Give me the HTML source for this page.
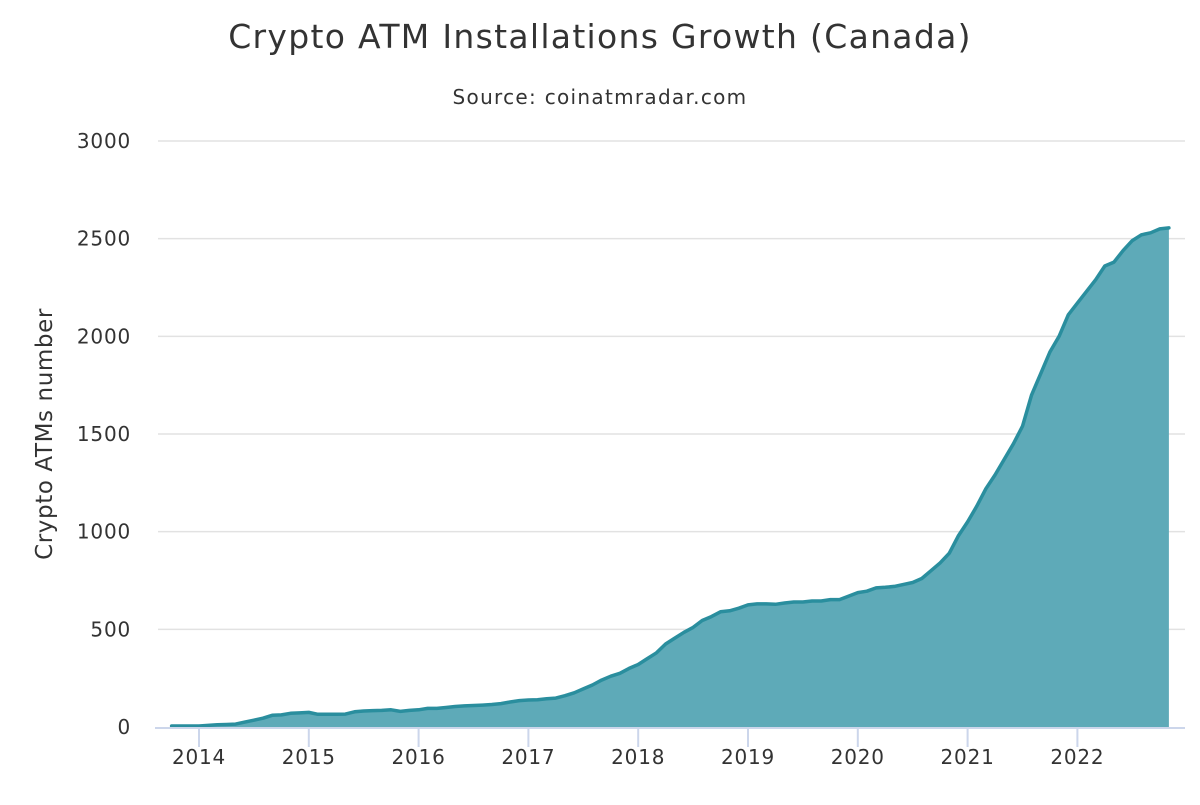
<!DOCTYPE html>
<html><head><meta charset="utf-8"><style>
body{margin:0;background:#fff;font-family:"Liberation Sans","DejaVu Sans",sans-serif;}
svg text{font-family:"DejaVu Sans","Liberation Sans",sans-serif;}
</style></head><body>
<svg id="chart" width="1200" height="800">
<text x="600" y="48" text-anchor="middle" font-size="33" letter-spacing="1.3" fill="#333">Crypto ATM Installations Growth (Canada)</text>
<text x="600" y="104" text-anchor="middle" font-size="20" letter-spacing="1.3" fill="#333">Source: coinatmradar.com</text>
<text transform="translate(52,434) rotate(-90)" text-anchor="middle" font-size="23" letter-spacing="0.6" fill="#333">Crypto ATMs number</text>
<g id="grid"></g><g id="series"></g><g id="xaxis"></g>
</svg>
<script>
const yTicks=[0,500,1000,1500,2000,2500,3000];
const xTickYears=[2014,2015,2016,2017,2018,2019,2020,2021,2022];
const startYear=2013, startMonth=9; // Oct 2013 (0-based month)
const values=[5,5,5,
5,8,12,13,15,25,35,45,60,62,70,72,
75,65,65,65,66,78,82,84,85,88,80,85,
88,95,95,100,105,108,110,112,115,120,128,135,
138,140,145,148,160,175,195,215,240,260,275,300,
320,350,380,425,455,485,510,545,565,590,595,608,
625,630,630,628,635,640,640,645,645,652,652,670,
688,695,712,715,720,730,740,760,800,840,890,980,
1050,1130,1220,1290,1370,1450,1540,1700,1810,1920,2000,2110,
2170,2230,2290,2360,2380,2440,2490,2520,2530,2550,2555];
const NS="http://www.w3.org/2000/svg";
const X=t=>199+(t-2014)*109.8;
const Y=v=>727-v*(586/3000);
function mk(tag,attrs,parent){const e=document.createElementNS(NS,tag);for(const k in attrs)e.setAttribute(k,attrs[k]);document.getElementById(parent).appendChild(e);return e;}
yTicks.forEach(v=>{
  if(v>0){const l=mk('line',{x1:158,x2:1185,y1:Y(v),y2:Y(v),stroke:'#e2e2e2','stroke-width':1.5},'grid');
  
  }
  const t=mk('text',{x:131,y:Y(v)+7,'text-anchor':'end','font-size':20,'letter-spacing':0.8,fill:'#333'},'grid');t.textContent=v;
  
  
});
const pts=values.map((v,i)=>{const m=startMonth+i;const t=startYear+m/12;return [X(t),Y(v)];});
let d='M'+pts.map(p=>p[0].toFixed(1)+','+p[1].toFixed(1)).join('L');
const area=mk('path',{d:d+'L'+pts[pts.length-1][0]+','+Y(0)+'L'+pts[0][0]+','+Y(0)+'Z',fill:'#5eaab8'},'series');


const line=mk('path',{d:d,fill:'none',stroke:'#2a8e9e','stroke-width':3.5,'stroke-linejoin':'round','stroke-linecap':'round'},'series');


const ax=mk('line',{x1:155,x2:1185,y1:Y(0)+1,y2:Y(0)+1,stroke:'#ccd6eb','stroke-width':2},'xaxis');


xTickYears.forEach(yr=>{
  const tk=mk('line',{x1:X(yr),x2:X(yr),y1:Y(0)+1,y2:Y(0)+20,stroke:'#ccd6eb','stroke-width':2},'xaxis');
  
  
  const t=mk('text',{x:X(yr),y:764,'text-anchor':'middle','font-size':20,'letter-spacing':0.8,fill:'#333'},'xaxis');t.textContent=yr;
  
  
});
</script>
</body></html>
